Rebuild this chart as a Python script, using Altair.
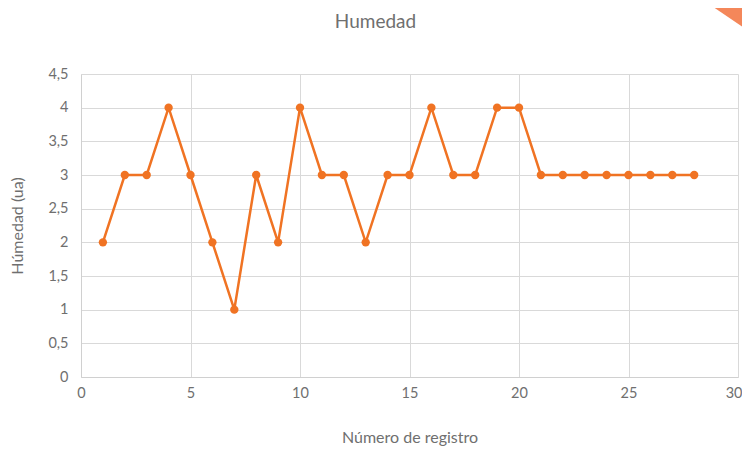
import altair as alt
import pandas as pd

registro = list(range(1, 29))
humedad = [2, 3, 3, 4, 3, 2, 1, 3, 2, 4, 3, 3, 2, 3, 3, 4, 3, 3, 4, 4, 3, 3, 3, 3, 3, 3, 3, 3]

df = pd.DataFrame({"registro": registro, "humedad": humedad})

FONT = "Lato"
TXT = "#6f6f6f"
ORANGE = "#F07323"

base = alt.Chart(df).encode(
    x=alt.X(
        "registro:Q",
        scale=alt.Scale(domain=[0, 30], nice=False),
        axis=alt.Axis(
            values=[0, 5, 10, 15, 20, 25, 30],
            title="Número de registro",
            titlePadding=30,
            labelPadding=9,
            labelFlush=False,
            labelAlign={"condition": {"test": "datum.value == 30", "value": "right"}, "value": "center"},
            labelOffset={"condition": {"test": "datum.value == 30", "value": 4}, "value": 0},
            ticks=False,
            grid=True,
            gridColor="#d9d9d9",
            domainColor="#d0d0d0",
            labelFontSize=14.5,
            titleFontSize=16,
            titleFontWeight="normal",
            labelColor=TXT,
            titleColor=TXT,
            labelFont=FONT,
            titleFont=FONT,
        ),
    ),
    y=alt.Y(
        "humedad:Q",
        scale=alt.Scale(domain=[0, 4.5], nice=False),
        axis=alt.Axis(
            values=[0, 0.5, 1, 1.5, 2, 2.5, 3, 3.5, 4, 4.5],
            labelExpr="replace(toString(datum.value), '.', ',')",
            title="Húmedad (ua)",
            titlePadding=22,
            labelPadding=13,
            labelFlush=False,
            ticks=False,
            grid=True,
            gridColor="#d9d9d9",
            domainColor="#d0d0d0",
            labelFontSize=14.5,
            titleFontSize=16,
            titleFontWeight="normal",
            labelColor=TXT,
            titleColor=TXT,
            labelFont=FONT,
            titleFont=FONT,
        ),
    ),
)

line = base.mark_line(color=ORANGE, strokeWidth=2.5)
points = base.mark_point(color=ORANGE, filled=True, opacity=1, size=70)

deco = alt.Chart(pd.DataFrame({"a": [0]})).mark_point(
    shape="M-1,-0.68L1,-0.68L1,0.68Z",
    filled=True,
    opacity=1,
    color="#F4875A",
    size=2209,
    clip=False,
).encode(x=alt.value(645.5), y=alt.value(-58))

chart = (
    alt.layer(line, points, deco)
    .properties(
        width=657,
        height=303,
        padding={"left": 73, "top": 66, "right": 4, "bottom": 70},
        autosize=alt.AutoSizeParams(type="none"),
        title=alt.TitleParams(
            "Humedad",
            font=FONT,
            fontSize=19,
            fontWeight="normal",
            color=TXT,
            anchor="middle",
            dx=-34,
            dy=48,
            offset=16,
        ),
    )
    .configure_view(stroke=None)
)

chart.save("out.html", embed_options={"renderer": "svg", "actions": False})
